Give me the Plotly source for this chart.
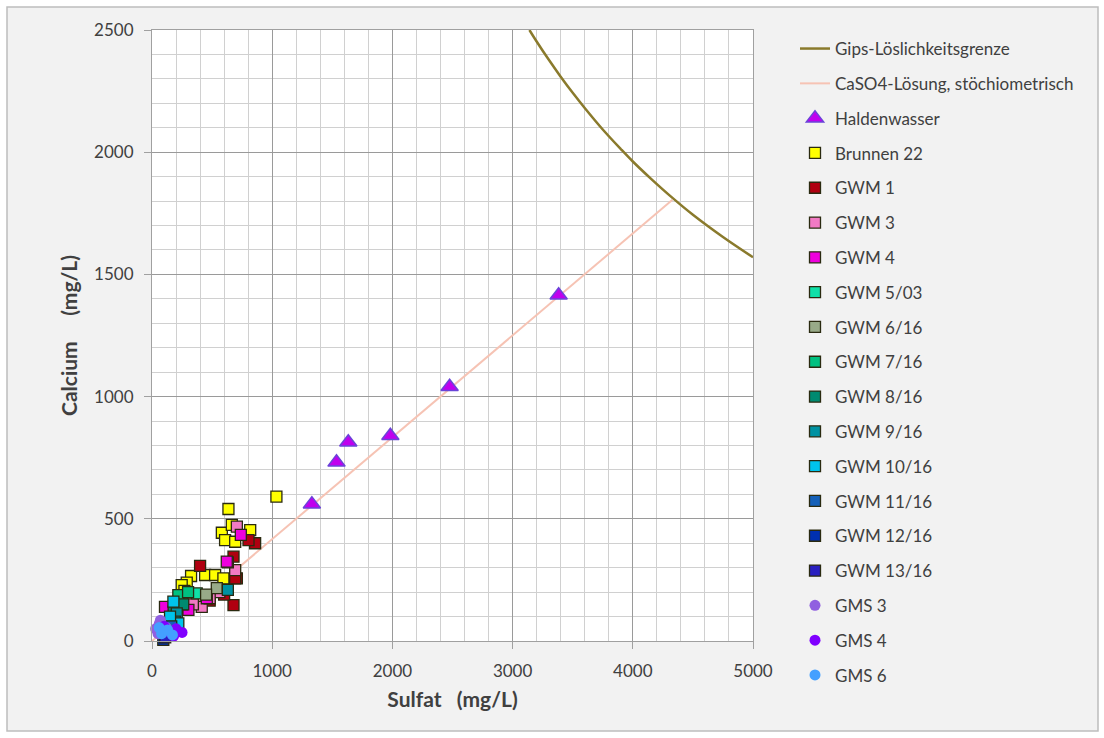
import plotly.graph_objects as go

# ---- data ----
gips_x = [3140, 3200, 3300, 3400, 3500, 3600, 3750, 3900, 4000, 4150, 4330, 4500, 4750, 5000]
gips_y = [2500, 2453, 2379, 2309, 2243, 2181, 2093, 2013, 1962, 1892, 1813, 1744, 1653, 1570]

caso4_x = [0, 4330]
caso4_y = [0, 1805]

halden_x = [1330, 1535, 1633, 1983, 2476, 3383]
halden_y = [560, 731, 813, 840, 1040, 1415]

brunnen_x = [1035, 636, 581, 664, 608, 692, 817, 325, 442, 525, 594, 289, 247, 270]
brunnen_y = [591, 540, 443, 475, 413, 406, 454, 266, 270, 270, 256, 239, 229, 205]

gwm1_x = [858, 803, 678, 706, 400, 692, 678, 480, 600]
gwm1_y = [400, 413, 345, 256, 307, 256, 147, 165, 190]

gwm3_x = [706, 692, 414, 560, 340, 480]
gwm3_y = [468, 290, 140, 200, 150, 175]

gwm4_x = [739, 631, 456, 303, 108, 622, 200]
gwm4_y = [434, 322, 175, 127, 140, 325, 100]

gwm5_x = [372, 250]
gwm5_y = [195, 150]
gwm6_x = [539, 450]
gwm6_y = [216, 190]
gwm7_x = [219, 300]
gwm7_y = [188, 200]
gwm8_x = [180, 260]
gwm8_y = [120, 150]
gwm9_x = [631, 206, 190]
gwm9_y = [209, 113, 79]
gwm10_x = [178, 219, 150]
gwm10_y = [161, 72, 100]
gwm11_x = [120, 160]
gwm11_y = [40, 60]
gwm12_x = [94, 130]
gwm12_y = [5, 25]
gwm13_x = [110]
gwm13_y = [15]

gms3_x = [30, 60, 90, 50, 120, 70]
gms3_y = [50, 70, 40, 30, 55, 85]
gms4_x = [150, 200, 250, 100, 180]
gms4_y = [35, 50, 35, 60, 20]
gms6_x = [80, 130, 170, 60]
gms6_y = [30, 45, 25, 55]

FONT = "Lato"
fig = go.Figure()

fig.add_trace(go.Scatter(x=gips_x, y=gips_y, mode="lines", name="Gips-Löslichkeitsgrenze",
                         line=dict(color="#8a7a2c", width=2.5, shape="spline"), legendgroup="g0"))
fig.add_trace(go.Scatter(x=caso4_x, y=caso4_y, mode="lines", name="CaSO4-Lösung, stöchiometrisch",
                         line=dict(color="#f6c3b4", width=2), legendgroup="g1"))
fig.add_trace(go.Scatter(x=halden_x, y=halden_y, mode="markers", name="Haldenwasser",
                         marker=dict(symbol="triangle-up", size=15, color="#c000ee",
                                     line=dict(color="#6a44d8", width=1.5)),
                         cliponaxis=False, legendgroup="g2"))

squares = [
    ("Brunnen 22", brunnen_x, brunnen_y, "#ffff00"),
    ("GWM 1", gwm1_x, gwm1_y, "#b00010"),
    ("GWM 3", gwm3_x, gwm3_y, "#f27ac4"),
    ("GWM 4", gwm4_x, gwm4_y, "#ee00dd"),
    ("GWM 5/03", gwm5_x, gwm5_y, "#10e0a8"),
    ("GWM 6/16", gwm6_x, gwm6_y, "#98aa88"),
    ("GWM 7/16", gwm7_x, gwm7_y, "#00c080"),
    ("GWM 8/16", gwm8_x, gwm8_y, "#008a70"),
    ("GWM 9/16", gwm9_x, gwm9_y, "#0092a2"),
    ("GWM 10/16", gwm10_x, gwm10_y, "#00c4ec"),
    ("GWM 11/16", gwm11_x, gwm11_y, "#1560b8"),
    ("GWM 12/16", gwm12_x, gwm12_y, "#0030b0"),
    ("GWM 13/16", gwm13_x, gwm13_y, "#2a20c0"),
]
for i, (nm, xs, ys, col) in enumerate(squares):
    fig.add_trace(go.Scatter(x=xs, y=ys, mode="markers", name=nm,
                             marker=dict(symbol="square", size=11, color=col,
                                         line=dict(color="#2a2a10", width=1.3)),
                             cliponaxis=False, legendgroup="s%d" % i))

circles = [
    ("GMS 3", gms3_x, gms3_y, "#9060e0"),
    ("GMS 4", gms4_x, gms4_y, "#8000ff"),
    ("GMS 6", gms6_x, gms6_y, "#44a0ff"),
]
for i, (nm, xs, ys, col) in enumerate(circles):
    fig.add_trace(go.Scatter(x=xs, y=ys, mode="markers", name=nm,
                             marker=dict(symbol="circle", size=11, color=col, line=dict(width=0)),
                             cliponaxis=False, legendgroup="c%d" % i))

L, R, T, B = 152, 753, 30, 641
W, H = 1104, 738
pw, ph = R - L, B - T

def px_x(p):
    return (p - L) / pw

def px_y(p):
    return (B - p) / ph

shapes = [
    dict(type="rect", xref="paper", yref="paper", layer="below",
         x0=px_x(7), x1=px_x(1098), y0=px_y(731), y1=px_y(7),
         fillcolor="#f2f2f2", line=dict(color="#bdbdbd", width=1.5)),
    dict(type="rect", xref="paper", yref="paper", layer="below",
         x0=0, x1=1, y0=0, y1=1, fillcolor="white", line=dict(width=0)),
]

axis_common = dict(
    showline=True, mirror=True, linecolor="#a0a0a0", linewidth=1.2,
    ticks="outside", ticklen=7, tickcolor="#a0a0a0",
    gridcolor="#9a9a9a", gridwidth=1.2, zeroline=False,
    tickfont=dict(family=FONT, size=17, color="#404040"),
    ticklabelstandoff=7,
)

fig.update_layout(
    width=W, height=H,
    margin=dict(l=L, r=W - R, t=T, b=H - B),
    paper_bgcolor="white", plot_bgcolor="white",
    shapes=shapes,
    showlegend=True,
    legend=dict(x=px_x(795), y=px_y(31), xanchor="left", yanchor="top",
                font=dict(family=FONT, size=17, color="#404040"),
                bgcolor="rgba(0,0,0,0)", tracegroupgap=9.7, traceorder="grouped",
                itemwidth=30, maxheight=730),
    xaxis=dict(range=[0, 5000], dtick=1000, tick0=0,
               minor=dict(dtick=200, showgrid=True, gridcolor="#d0d0d0", gridwidth=1, ticks=""),
               title=dict(text="<b>Sulfat   (mg/L)</b>", font=dict(family=FONT, size=21, color="#404040"),
                          standoff=12),
               **axis_common),
    yaxis=dict(range=[0, 2500], dtick=500, tick0=0,
               minor=dict(dtick=100, showgrid=True, gridcolor="#d0d0d0", gridwidth=1, ticks=""),
               title=dict(text="<b>Calcium     (mg/L)</b>", font=dict(family=FONT, size=21, color="#404040"),
                          standoff=10),
               **axis_common),
)

fig.write_html("out.html", post_script="document.body.style.margin='0';",
               config={"displayModeBar": False})
